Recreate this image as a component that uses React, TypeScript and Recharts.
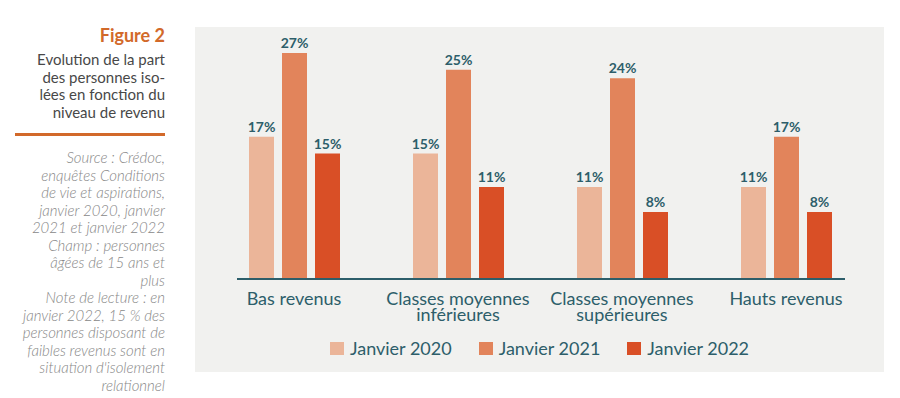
import React from 'react';
import { BarChart, Bar, XAxis, YAxis, LabelList } from 'recharts';

const categories = ['Bas revenus', 'Classes moyennes inférieures', 'Classes moyennes supérieures', 'Hauts revenus'];
const tickLines = [['Bas revenus'], ['Classes moyennes', 'inférieures'], ['Classes moyennes', 'supérieures'], ['Hauts revenus']];
const jan2020 = [17, 15, 11, 11];
const jan2021 = [27, 25, 24, 17];
const jan2022 = [15, 11, 8, 8];

const seriesNames = ['Janvier 2020', 'Janvier 2021', 'Janvier 2022'];
const seriesColors = ['#ebb599', '#e2845b', '#d94f26'];

const titleLines = ['Evolution de la part', 'des personnes iso-', 'lées en fonction du', 'niveau de revenu'];
const noteLines = [
  'Source : Crédoc,',
  'enquêtes Conditions',
  'de vie et aspirations,',
  'janvier 2020, janvier',
  '2021 et janvier 2022',
  'Champ : personnes',
  'âgées de 15 ans et',
  'plus',
  'Note de lecture : en',
  'janvier 2022, 15 % des',
  'personnes disposant de',
  'faibles revenus sont en',
  "situation d'isolement",
  'relationnel',
];

const data = categories.map((c, i) => ({
  name: c,
  y2020: jan2020[i],
  y2021: jan2021[i],
  y2022: jan2022[i],
}));

const TEAL = '#2d5e6a';
const FONT = 'Lato, "Open Sans", sans-serif';

const CategoryTick = ({ x, y, payload }: any) => {
  const lines = tickLines[payload.index] || [payload.value];
  return (
    <text x={x} y={y} textAnchor="middle" fill={TEAL} fontSize={18} fontFamily={FONT}>
      {lines.map((l, i) => (
        <tspan key={i} x={x} dy={i === 0 ? 18 : 16}>
          {l}
        </tspan>
      ))}
    </text>
  );
};

const pct = (v: any) => `${v}%`;

export default function App() {
  const keys = ['y2020', 'y2021', 'y2022'];
  return (
    <div style={{ position: 'absolute', left: 0, top: 0, width: 900, height: 398, background: '#fff', fontFamily: FONT, overflow: 'hidden' }}>
      <div style={{ position: 'absolute', left: 0, top: 24, width: 165, textAlign: 'right' }}>
        <div style={{ color: '#d2692a', fontWeight: 700, fontSize: 18, lineHeight: '22px' }}>Figure 2</div>
        <div style={{ color: '#484848', fontSize: 15, lineHeight: '17.7px', marginTop: 5 }}>
          {titleLines.map((l, i) => (
            <div key={i}>{l}</div>
          ))}
        </div>
      </div>
      <div style={{ position: 'absolute', left: 15, top: 133, width: 150, height: 3, background: '#d2692a' }} />
      <div style={{ position: 'absolute', left: 0, top: 149, width: 165, textAlign: 'right', color: '#888', fontStyle: 'italic', fontWeight: 300, fontSize: 15, lineHeight: '17.5px' }}>
        {noteLines.map((l, i) => (
          <div key={i}>{l}</div>
        ))}
      </div>

      <div style={{ position: 'absolute', left: 195, top: 27, width: 689, height: 345, background: '#f1f1ef' }} />

      <div style={{ position: 'absolute', left: 0, top: 0 }}>
        <BarChart
          width={900}
          height={398}
          data={data}
          margin={{ top: 28, right: 32, bottom: 79, left: 212 }}
          barGap={8}
          barSize={25}
        >
          <XAxis dataKey="name" axisLine={false} tickLine={false} height={40} interval={0} tick={<CategoryTick />} />
          <YAxis hide domain={[0, 30]} />
          {keys.map((k, i) => (
            <Bar key={k} dataKey={k} name={seriesNames[i]} fill={seriesColors[i]} isAnimationActive={false}>
              <LabelList dataKey={k} position="top" offset={5} formatter={pct} fill={TEAL} fontSize={14} fontWeight={700} fontFamily={FONT} />
            </Bar>
          ))}
        </BarChart>
      </div>

      <div style={{ position: 'absolute', left: 237, top: 278, width: 608, height: 2, background: TEAL }} />

      <div style={{ position: 'absolute', left: 195, width: 689, top: 337, display: 'flex', justifyContent: 'center', color: TEAL, fontSize: 18, lineHeight: '22px' }}>
        {seriesNames.map((n, i) => (
          <div key={n} style={{ display: 'flex', alignItems: 'center', marginRight: i < 2 ? 27 : 0 }}>
            <span style={{ display: 'inline-block', width: 14, height: 13, background: seriesColors[i], marginRight: 6 }} />
            {n}
          </div>
        ))}
      </div>
    </div>
  );
}
